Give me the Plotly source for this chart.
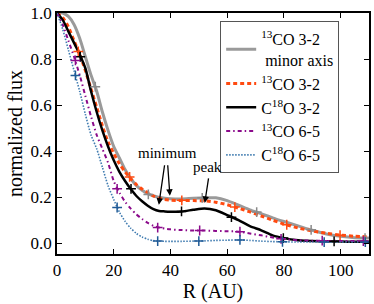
import plotly.graph_objects as go

# radial grid (AU)
R = [0, 2, 4, 6, 8, 10, 12, 14, 16, 18, 20, 22, 24, 26, 28, 30, 32, 34, 36, 38, 40,
     44, 48, 52, 56, 60, 64, 68, 72, 76, 80, 85, 90, 95, 100, 105, 110]

co13_32_minor = [1.0, 1.0, 0.985, 0.95, 0.89, 0.81, 0.73, 0.66, 0.57, 0.49, 0.42, 0.37, 0.32,
                 0.28, 0.25, 0.23, 0.215, 0.205, 0.2, 0.195, 0.193,
                 0.192, 0.195, 0.197, 0.197, 0.185, 0.165, 0.145, 0.128, 0.11, 0.094,
                 0.075, 0.056, 0.04, 0.03, 0.024, 0.022]
co13_32 = [1.0, 0.98, 0.94, 0.88, 0.82, 0.75, 0.67, 0.59, 0.51, 0.44, 0.39, 0.345, 0.31,
           0.28, 0.255, 0.235, 0.22, 0.205, 0.195, 0.19, 0.187,
           0.185, 0.185, 0.184, 0.178, 0.167, 0.152, 0.136, 0.118, 0.1, 0.083,
           0.066, 0.053, 0.043, 0.035, 0.03, 0.028]
c18o_32 = [1.0, 0.97, 0.92, 0.87, 0.82, 0.76, 0.66, 0.57, 0.49, 0.42, 0.36, 0.31, 0.27,
           0.235, 0.205, 0.182, 0.163, 0.148, 0.14, 0.138, 0.137,
           0.138, 0.145, 0.151, 0.143, 0.122, 0.1, 0.074, 0.056, 0.034, 0.022,
           0.013, 0.009, 0.008, 0.007, 0.006, 0.006]
co13_65 = [1.0, 0.95, 0.88, 0.81, 0.73, 0.64, 0.55, 0.47, 0.41, 0.35, 0.27, 0.22, 0.18,
           0.15, 0.125, 0.105, 0.088, 0.075, 0.068, 0.063, 0.06,
           0.057, 0.055, 0.055, 0.053, 0.052, 0.05, 0.042, 0.034, 0.025, 0.018,
           0.013, 0.011, 0.01, 0.01, 0.009, 0.009]
c18o_65 = [1.0, 0.93, 0.84, 0.75, 0.66, 0.56, 0.47, 0.41, 0.33, 0.25, 0.19, 0.135, 0.095,
           0.065, 0.042, 0.027, 0.017, 0.011, 0.009, 0.008, 0.008,
           0.008, 0.009, 0.01, 0.012, 0.013, 0.014, 0.012, 0.009, 0.007, 0.006,
           0.005, 0.005, 0.005, 0.005, 0.005, 0.005]

# sampled points ("+" markers)
m_minor_R = [13.5, 32.2, 51.2, 70.4, 89.6, 108.6]
m_minor_v = [0.68, 0.212, 0.197, 0.135, 0.058, 0.022]
m_co1332_R = [7.5, 25.6, 44.0, 62.7, 81.0, 99.8]
m_co1332_v = [0.833, 0.288, 0.186, 0.157, 0.08, 0.035]
m_c18o32_R = [8.2, 26.1, 43.9, 61.5, 79.8, 97.7]
m_c18o32_v = [0.81, 0.236, 0.138, 0.113, 0.022, 0.008]
m_co1365_R = [6.5, 21.2, 35.5, 50.3, 64.5, 79.0, 93.5, 108.0]
m_co1365_v = [0.794, 0.236, 0.068, 0.055, 0.05, 0.019, 0.011, 0.009]
m_c18o65_R = [6.5, 21.2, 35.5, 50.0, 64.5, 79.5, 94.2, 108.7]
m_c18o65_v = [0.729, 0.155, 0.009, 0.009, 0.014, 0.006, 0.005, 0.005]

names = ["<sup>13</sup>CO 3-2<br> minor axis", "<sup>13</sup>CO 3-2", "C<sup>18</sup>O 3-2",
         "<sup>13</sup>CO 6-5", "C<sup>18</sup>O 6-5"]

FONT = "Liberation Serif"

series = [
    (co13_32_minor, m_minor_R, m_minor_v, "#9a9a9a", "solid", 3, "#8a8a8a"),
    (co13_32, m_co1332_R, m_co1332_v, "#ff4a10", "4px,3px", 3, "#ff4a10"),
    (c18o_32, m_c18o32_R, m_c18o32_v, "#000000", "solid", 2.5, "#000000"),
    (co13_65, m_co1365_R, m_co1365_v, "#8b0a8b", "4px,3px,1.5px,3px", 2, "#8b0a8b"),
    (c18o_65, m_c18o65_R, m_c18o65_v, "#3f7bb0", "1.5px,1.5px", 1.6, "#1f5a96"),
]

fig = go.Figure()
for (vals, mR, mv, col, dash, w, mcol), nm in zip(series, names):
    fig.add_trace(go.Scatter(x=R, y=vals, mode="lines", name=nm,
                             line=dict(color=col, dash=dash, width=w, shape="spline", smoothing=0.7)))
for (vals, mR, mv, col, dash, w, mcol) in series:
    fig.add_trace(go.Scatter(x=mR, y=mv, mode="markers", showlegend=False,
                             marker=dict(symbol="cross-thin", size=7, color=mcol,
                                         line=dict(width=1.5, color=mcol))))

# annotations
fig.add_annotation(x=39.0, y=0.39, text="minimum", showarrow=False,
                   font=dict(family=FONT, size=15, color="black"))
fig.add_annotation(x=53.2, y=0.33, text="peak", showarrow=False,
                   font=dict(family=FONT, size=15, color="black"))
arrows = [((38.0, 0.345), (35.9, 0.167)),
          ((39.0, 0.345), (39.8, 0.206)),
          ((53.5, 0.288), (52.1, 0.175))]
for (tx, ty), (hx, hy) in arrows:
    fig.add_annotation(x=hx, y=hy, ax=tx, ay=ty, axref="x", ayref="y", text="",
                       showarrow=True, arrowhead=2, arrowsize=1, arrowwidth=1.3,
                       arrowcolor="black", standoff=0, startstandoff=0)

fig.update_xaxes(range=[0, 110], tickvals=[0, 20, 40, 60, 80, 100],
                 showline=True, linecolor="black", linewidth=1.5, mirror="ticks",
                 ticks="inside", ticklen=5, tickwidth=1, tickcolor="black",
                 showgrid=False, zeroline=False, automargin=False,
                 tickfont=dict(family=FONT, size=17, color="black"),
                 title=dict(text="R (AU)", font=dict(family=FONT, size=20, color="black"), standoff=4))
fig.update_yaxes(range=[-0.047, 1.0], tickvals=[0.0, 0.2, 0.4, 0.6, 0.8, 1.0], tickformat=".1f",
                 showline=True, linecolor="black", linewidth=1.5, mirror="ticks",
                 ticks="inside", ticklen=5, tickwidth=1, tickcolor="black",
                 showgrid=False, zeroline=False, automargin=False,
                 tickfont=dict(family=FONT, size=17, color="black"),
                 title=dict(text="normalized flux", font=dict(family=FONT, size=20, color="black"), standoff=3))

fig.update_layout(
    width=374, height=304,
    margin=dict(l=57, r=5, t=13, b=50),
    plot_bgcolor="white", paper_bgcolor="white",
    legend=dict(x=0.523, y=0.967, xanchor="left", yanchor="top",
                bgcolor="white", bordercolor="#555555", borderwidth=1,
                font=dict(family=FONT, size=16, color="black"),
                itemwidth=30, tracegroupgap=0),
)

fig.write_html("out.html", config={"displayModeBar": False},
               post_script="document.body.style.margin='0';")
